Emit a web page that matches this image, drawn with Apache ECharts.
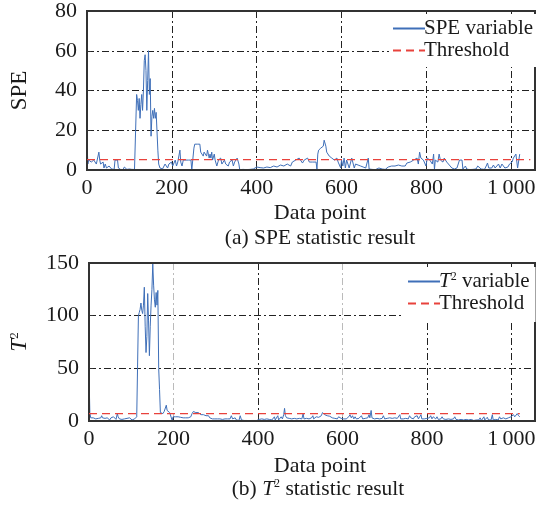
<!DOCTYPE html>
<html><head><meta charset="utf-8">
<script src="https://cdn.jsdelivr.net/npm/echarts@6/dist/echarts.min.js"></script>
<style>html,body{margin:0;padding:0;background:#fff}#c{width:543px;height:505px}</style>
</head><body><div id="c"></div>
<script>
// ---- data (x = data point index, y = statistic) ----
var xTicks = [0, 200, 400, 600, 800, 1000];
var speTicks = [0, 20, 40, 60, 80];
var t2Ticks = [0, 50, 100, 150];
var speThreshold = 5.2;
var t2Threshold = 7;
var thresholdSpanTop = [0, 1045];
var thresholdSpanBottom = [0, 1020];

var speSeries = [[0,14],[2,3],[4,5],[6,4],[8,6],[10,4],[12,5],[14,3],[16,5],[18,4],[20,6],[22,3],[24,5],[26,4],[28,9],[30,5],[32,3],[34,4],[36,2],[38,4],[40,1],[43,3],[46,1],[49,0.5],[52,2],[55,1],[58,0.5],[61,1],[64,0.3],[66,5],[68,5],[70,4],[72,5],[74,1],[76,0.5],[79,0.3],[82,1],[85,0.2],[88,1.5],[91,0.5],[94,0.3],[97,1],[100,0.5],[103,1.5],[106,0.3],[109,0.5],[112,0.3],[114,1],[117,38],[119,35],[121,30],[123,36],[125,26],[127,33],[129,38],[131,30],[133,40],[135,55],[137,58],[139,50],[141,30],[143,45],[145,60],[147,38],[149,46],[151,17],[153,27],[155,30],[157,26],[159,31],[161,26],[163,29],[165,28],[167,10],[169,3],[172,1],[175,2],[178,0.5],[181,1.5],[184,3],[187,2],[190,1],[193,3],[196,2],[199,4],[202,2],[205,3],[208,5],[211,2],[214,4],[217,3],[219,10],[221,4],[224,2],[227,5],[230,5],[233,5],[236,5],[239,5],[242,5],[245,5],[247,0],[250,0.5],[252,11],[254,13],[257,12],[260,13],[262,14],[264,12],[266,13],[268,9],[270,8],[272,10],[274,7],[276,9],[278,8],[280,9],[282,7],[284,10],[286,8],[288,6],[290,8],[292,6],[294,9],[296,5],[298,6],[300,8],[302,5],[304,6],[306,2],[308,3],[310,5],[312,4],[315,6],[318,3],[321,4],[324,5],[327,3],[330,4],[333,2],[336,4],[339,3],[342,5],[345,2],[348,4],[351,3],[354,6],[356,7],[358,3],[360,0.2],[364,0.5],[368,0.3],[372,1],[376,0.2],[380,0.8],[384,0.3],[388,1],[392,0.5],[396,0.2],[400,1.5],[404,0.5],[408,1.2],[412,0.4],[416,1],[420,0.5],[424,1.5],[428,0.8],[432,1.2],[436,0.5],[440,2],[444,1],[448,1.5],[452,1],[456,2.5],[460,1.5],[464,2],[468,1.8],[472,3],[476,2.5],[480,2],[484,4],[488,3],[492,5],[496,4],[500,6],[504,5],[508,3.5],[512,5],[516,4],[520,6],[524,4],[528,5],[532,4],[536,5],[540,4],[542,0.3],[544,8],[546,10],[548,9],[551,11],[554,10],[557,12],[559,15],[561,15],[563,12],[565,9],[568,8],[571,7],[574,8],[577,6],[580,6],[583,5],[586,5],[589,6],[592,4],[595,5],[598,1],[600,5],[603,2],[606,6],[609,1],[612,5],[615,5],[618,1],[621,1.5],[624,6],[627,6],[630,1],[633,3],[636,2],[639,2.5],[642,1.5],[645,2],[648,1],[651,1.5],[654,2],[657,1],[660,1.5],[663,6],[665,0.5],[668,1],[672,0.3],[676,0.8],[680,0.2],[684,0.5],[688,1],[692,0.3],[696,0.5],[700,1.5],[703,0.3],[706,1],[710,1.5],[714,1],[718,2],[722,1.5],[726,2],[730,1],[734,2.5],[738,1.5],[742,2],[746,3],[750,2],[754,3.5],[758,3],[762,4],[766,3],[770,5],[774,4],[778,6],[781,3],[784,9],[787,6],[790,5],[793,5],[796,5],[799,2],[802,6],[805,7],[808,5],[811,6],[814,3],[817,8],[819,0.3],[821,5],[824,6],[827,4],[830,8],[833,5],[836,6],[839,4],[842,6],[845,5],[848,4],[851,3],[854,2.5],[857,1.5],[860,1],[863,0.8],[866,0.5],[869,0.3],[872,1],[875,0.5],[878,5],[881,4],[884,5],[886,0.5],[889,1],[892,2],[895,0.5],[898,1.5],[901,0.2],[905,0.5],[909,0.3],[913,1],[917,0.5],[921,2],[925,1],[929,0.5],[933,1],[937,0.3],[941,2],[944,3.5],[947,1],[950,0.5],[954,1],[958,2.5],[962,1],[966,0.5],[970,3],[974,1],[978,3],[982,3],[985,1],[988,2],[992,1.5],[996,3],[999,2],[1002,4],[1005,6],[1008,7],[1011,8],[1013,7],[1015,1],[1018,1],[1020,8]];

var t2Series = [[0,45],[2,8],[4,3],[6,4],[8,2.5],[10,3],[12,2],[14,3.5],[16,2],[18,3],[20,1.5],[22,2.5],[24,4],[26,2],[28,3],[30,5],[32,3],[34,2],[36,4],[38,2.5],[40,1.5],[43,3],[46,2],[49,1],[52,3],[55,2],[58,4],[61,2.5],[64,1.5],[67,7],[69,4],[72,2],[75,3],[78,1.5],[81,3],[84,2],[87,1],[90,2.5],[93,1.5],[96,3],[99,2],[102,1],[105,2.5],[108,2],[111,3],[113,4],[117,100],[119,103],[121,106],[123,112],[125,105],[127,102],[129,110],[131,127],[133,90],[135,65],[137,80],[139,121],[141,95],[143,62],[145,90],[147,110],[149,125],[151,149],[153,129],[155,115],[157,108],[159,122],[161,110],[163,124],[165,50],[167,30],[169,8],[172,8],[175,7],[178,9],[181,10],[183,15],[185,10],[188,9],[191,8],[194,8],[197,0.5],[199,4],[202,5],[205,4],[208,5],[211,4],[214,3],[217,3.5],[220,2.5],[223,3],[226,2],[229,3],[232,2.5],[235,3],[238,2],[241,4],[244,7],[247,9],[250,10],[253,8],[256,7],[259,8],[262,7],[265,6],[268,7],[271,6],[274,5],[277,5],[280,4],[283,5],[286,3],[289,3.5],[292,2],[295,3],[298,2],[301,2.5],[304,2],[307,1.5],[310,2],[313,2],[316,1.5],[319,2],[322,2],[325,1.5],[328,2],[331,3],[334,2],[337,5],[340,2],[343,1.5],[346,3],[349,1],[352,2],[355,0.5],[358,5],[361,1],[364,2],[367,0.5],[370,1],[373,0.5],[376,1.5],[379,0.3],[382,1],[385,0.5],[388,1.5],[391,0.5],[394,2],[397,0.5],[400,1],[403,1.5],[406,0.5],[409,2],[412,1],[415,1.5],[418,0.5],[421,2],[424,1],[427,1.5],[430,2.5],[433,1],[436,2],[439,4],[441,1],[444,2],[447,5],[449,1],[452,2],[455,4],[458,2],[461,6],[463,12],[465,5],[468,3],[471,3.5],[474,2.5],[477,3],[480,2],[483,3],[486,2.5],[489,4],[492,2],[495,3],[498,2.5],[501,3],[504,2],[507,7],[509,2],[512,3],[515,2.5],[518,4],[521,2],[524,3.5],[527,3],[530,5],[532,2],[535,3],[538,4],[541,3],[544,3.5],[547,4],[550,5],[553,8],[555,7],[558,6],[561,5],[564,5],[567,4],[570,4.5],[573,4],[576,3],[579,3.5],[582,2.5],[585,3],[588,2],[591,4],[594,3],[597,2.5],[600,3],[603,2],[606,3],[609,2],[612,2.5],[615,4],[618,6],[621,3],[624,5],[627,2],[630,4],[633,2],[636,3],[639,2.5],[642,3],[645,5],[648,2],[651,3],[654,2.5],[657,4],[660,3],[663,6],[665,3],[668,10],[670,3],[673,4],[676,2],[679,3],[682,2.5],[685,3.5],[688,2],[691,3],[694,2.5],[697,5],[700,2],[703,3],[706,2.5],[709,2],[712,3],[715,2],[718,2.5],[721,1.5],[724,3],[727,2],[730,2.5],[733,1.5],[736,6],[738,2],[741,3],[744,2],[747,3],[750,2.5],[753,4],[756,2],[759,5],[762,3],[765,3.5],[768,2],[771,4],[774,3],[777,5],[780,2],[783,4],[786,6],[788,2],[791,3],[794,2],[797,3],[800,2.5],[803,4],[806,3],[809,5],[812,2],[815,4],[818,3],[821,2],[824,4],[827,1.5],[830,3],[833,2],[836,4],[839,2],[842,3],[845,1.5],[848,3],[851,2],[854,3],[857,1.5],[860,3],[863,2],[866,4],[869,1.5],[872,2.5],[875,1],[878,2],[881,1.5],[884,3],[887,1],[890,2],[893,1.5],[896,3],[899,1],[902,2],[905,1.5],[908,2],[911,0.5],[914,2],[917,1],[920,2.5],[923,1],[926,3],[929,0.5],[932,1.5],[935,4],[937,1],[940,2],[943,3.5],[946,1],[949,2],[952,1],[955,6],[957,1],[960,2],[963,1.5],[966,3],[969,1],[972,4],[975,2],[978,3],[981,3],[984,4],[987,2],[990,3],[993,3],[996,2],[999,4],[1002,3],[1005,6],[1008,4],[1011,5],[1014,7],[1017,5],[1020,4]];

// ---- chart ----
var FONT = '"Liberation Serif", "Times New Roman", serif';
var TXT = '#1a1a1a';
var DASHDOT = [7, 3, 2, 3];
var xMax = 1056;

function xLabel(v) {
  if (xTicks.indexOf(v) < 0) return '';
  return v === 1000 ? '1\u2009000' : String(v);
}
function xAxisCfg(gi, colors) {
  return {
    gridIndex: gi, type: 'value', min: 0, max: xMax, interval: 200,
    axisLine: {show: false},
    axisTick: {show: true, inside: true, length: 4, lineStyle: {color: '#333'}},
    axisLabel: {formatter: xLabel, fontFamily: FONT, fontSize: 22, color: TXT, margin: 7},
    splitLine: {show: true, lineStyle: {color: colors, type: DASHDOT, width: 1}}
  };
}
function yAxisCfg(gi, maxV, step, name, gap) {
  return {
    gridIndex: gi, type: 'value', min: 0, max: maxV, interval: step,
    name: name, nameLocation: 'middle', nameGap: gap,
    nameTextStyle: {fontFamily: FONT, fontSize: 23, color: TXT,
      rich: {i: {fontFamily: FONT, fontSize: 23, fontStyle: 'italic', color: TXT},
             s: {fontFamily: FONT, fontSize: 13, color: TXT, verticalAlign: 'top', lineHeight: 20}}},
    axisLine: {show: false},
    axisTick: {show: true, inside: true, length: 4, lineStyle: {color: '#333'}},
    axisLabel: {fontFamily: FONT, fontSize: 22, color: TXT, margin: 10},
    splitLine: {show: true, lineStyle: {color: '#222', type: DASHDOT, width: 1}}
  };
}
var richLegend = {
  i: {fontFamily: FONT, fontSize: 21, fontStyle: 'italic', color: TXT},
  s: {fontFamily: FONT, fontSize: 12, color: TXT, verticalAlign: 'top'},
  n: {fontFamily: FONT, fontSize: 21, color: TXT}
};
function legendFmt(name) {
  if (name === 'T2') return '{i|T}{s|2}{n| variable}';
  return '{n|' + name.trim() + '}';
}
function thrLine(span, v) { return span.map(function (x) { return [x, v]; }); }

var hiddenSymbol = {color: 'rgba(0,0,0,0)', borderColor: 'rgba(0,0,0,0)', borderWidth: 0, opacity: 0};

var chart = echarts.init(document.getElementById('c'), null, {renderer: 'canvas'});
chart.setOption({
  animation: false,
  backgroundColor: '#fff',
  grid: [
    {left: 87, top: 9, width: 448, height: 161, show: true, borderColor: '#333', borderWidth: 2, backgroundColor: 'transparent', z: 3},
    {left: 87, top: 263, width: 448, height: 158, show: true, borderColor: '#333', borderWidth: 2, backgroundColor: 'transparent', z: 3}
  ],
  xAxis: [
    xAxisCfg(0, ['#222']),
    xAxisCfg(1, ['#222', '#bbb', '#222', '#bbb', '#222', '#222', '#222'])
  ],
  yAxis: [
    yAxisCfg(0, 80, 20, 'SPE', 56),
    yAxisCfg(1, 150, 50, '{i|T}{s|2}', 58)
  ],
  legend: [
    {data: ['SPE variable', 'Threshold'], orient: 'vertical', left: 389, top: 14,
     itemWidth: 32, itemHeight: 10, itemGap: 1, formatter: legendFmt, itemStyle: hiddenSymbol,
     textStyle: {fontFamily: FONT, fontSize: 21, color: TXT, rich: richLegend, padding: [0, 0, 0, -6]},
     backgroundColor: '#fff', padding: [4, 6, 6, 3], selectedMode: false},
    {data: ['T2', 'Threshold '], orient: 'vertical', left: 404, top: 267,
     itemWidth: 32, itemHeight: 10, itemGap: 1, formatter: legendFmt, itemStyle: hiddenSymbol,
     textStyle: {fontFamily: FONT, fontSize: 21, color: TXT, rich: richLegend, padding: [0, 0, 0, -6]},
     backgroundColor: '#fff', padding: [4, 6, 8, 3], selectedMode: false}
  ],
  graphic: [
    {type: 'text', x: 320, y: 213, style: {text: 'Data point', font: '22px ' + FONT, fill: TXT, align: 'center', verticalAlign: 'middle'}},
    {type: 'text', x: 320, y: 238, style: {text: '(a) SPE statistic result', font: '21.5px ' + FONT, fill: TXT, align: 'center', verticalAlign: 'middle'}},
    {type: 'text', x: 320, y: 466, style: {text: 'Data point', font: '22px ' + FONT, fill: TXT, align: 'center', verticalAlign: 'middle'}},
    {type: 'text', x: 318, y: 489, style: {text: '(b) {i|T}{s|2} statistic result', font: '21.5px ' + FONT, fill: TXT, align: 'center', verticalAlign: 'middle',
      rich: {i: {fontStyle: 'italic', fontFamily: FONT, fontSize: 21.5, fill: TXT}, s: {fontFamily: FONT, fontSize: 12, verticalAlign: 'top', fill: TXT}}}}
  ],
  series: [
    {name: 'SPE variable', type: 'line', xAxisIndex: 0, yAxisIndex: 0, data: speSeries, showSymbol: false, symbol: 'none',
     lineStyle: {color: '#3f6fb8', width: 1}, itemStyle: {color: '#3f6fb8'}, z: 2},
    {name: 'Threshold', type: 'line', xAxisIndex: 0, yAxisIndex: 0, data: thrLine(thresholdSpanTop, speThreshold), symbol: 'none',
     lineStyle: {color: '#e8423c', width: 1.2, type: [8, 5]}, itemStyle: {color: '#e8423c'}, z: 3},
    {name: 'T2', type: 'line', xAxisIndex: 1, yAxisIndex: 1, data: t2Series, showSymbol: false, symbol: 'none',
     lineStyle: {color: '#3f6fb8', width: 1}, itemStyle: {color: '#3f6fb8'}, z: 2},
    {name: 'Threshold ', type: 'line', xAxisIndex: 1, yAxisIndex: 1, data: thrLine(thresholdSpanBottom, t2Threshold), symbol: 'none',
     lineStyle: {color: '#e8423c', width: 1.2, type: [8, 5]}, itemStyle: {color: '#e8423c'}, z: 3}
  ]
});
</script></body></html>
